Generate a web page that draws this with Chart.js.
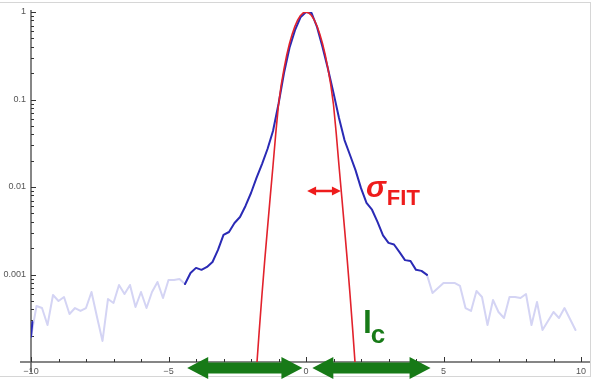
<!DOCTYPE html>
<html lang="en">
<head>
  <meta charset="UTF-8" />
  <title>Intensity profile</title>
  <script src="https://cdn.jsdelivr.net/npm/chart.js"></script>
  <style>
    body {
      margin: 0;
      background: white;
    }
    .frame {
      position: absolute;
      left: -2px;
      top: 2px;
      width: 591px;
      height: 373px;
      border: 1px solid #d6d6d6;
    }
    .wrap {
      position: absolute;
      left: 0;
      top: 0;
    }
  </style>
</head>
<body>
  <div class="frame"></div>
  <div class="wrap"><canvas id="profile" width="597" height="379"></canvas></div>

  <script>
    // measured profile, step 0.2
    const blueX = [
      -10, -9.8, -9.6, -9.4, -9.2, -9, -8.8, -8.6, -8.4, -8.2,
      -8, -7.8, -7.6, -7.4, -7.2, -7, -6.8, -6.6, -6.4, -6.2,
      -6, -5.8, -5.6, -5.4, -5.2, -5, -4.8, -4.6, -4.4, -4.2,
      -4, -3.8, -3.6, -3.4, -3.2, -3, -2.8, -2.6, -2.4, -2.2,
      -2, -1.8, -1.6, -1.4, -1.2, -1, -0.8, -0.6, -0.4, -0.2,
      0, 0.2, 0.4, 0.6, 0.8, 1, 1.2, 1.4, 1.6, 1.8,
      2, 2.2, 2.4, 2.6, 2.8, 3, 3.2, 3.4, 3.6, 3.8,
      4, 4.2, 4.4, 4.6, 4.8, 5, 5.2, 5.4, 5.6, 5.8,
      6, 6.2, 6.4, 6.6, 6.8, 7, 7.2, 7.4, 7.6, 7.8,
      8, 8.2, 8.4, 8.6, 8.8, 9, 9.2, 9.4, 9.6, 9.8
    ];
    const blueY = [
      0.000193, 0.000437, 0.000414, 0.000265, 0.000583, 0.000498, 0.000553, 0.000354, 0.000414, 0.000383,
      0.000414, 0.000631, 0.000327, 0.000174, 0.000525, 0.000472, 0.000759, 0.000598, 0.000759, 0.000425,
      0.000631, 0.000414, 0.000631, 0.000821, 0.000539, 0.000865, 0.000865, 0.000888, 0.000779, 0.00104,
      0.00119, 0.00113, 0.00122, 0.00139, 0.00191, 0.00283, 0.00306, 0.00388, 0.00454, 0.00607,
      0.00854, 0.0127, 0.0183, 0.0272, 0.0437, 0.0888, 0.2, 0.39, 0.62, 0.87,
      1, 0.975, 0.674, 0.398, 0.223, 0.119, 0.0615, 0.0344, 0.0232, 0.0156,
      0.0097, 0.0066, 0.0055, 0.0040, 0.0028, 0.0023, 0.0022, 0.0018, 0.00146, 0.00143,
      0.00113, 0.00110, 0.00099, 0.000615, 0.000701, 0.000800, 0.000800, 0.000800, 0.000739, 0.000414,
      0.000383, 0.000648, 0.000553, 0.000265, 0.000511, 0.000373, 0.000318, 0.000553, 0.000553, 0.000539,
      0.000598, 0.000265, 0.000485, 0.000232, 0.000294, 0.000373, 0.000318, 0.000414, 0.000310, 0.000232
    ];
    // part of the profile shown at full strength
    const coreFrom = -4.4;
    const coreTo = 4.4;
    // short full-strength piece at the left edge
    const edgeX = [-10, -9.95];
    const edgeY = [0.000193, 0.000286];

    // fitted curve
    const fitX = [
      -1.85, -1.8, -1.7, -1.6, -1.5, -1.4, -1.3, -1.2, -1.1, -1, -0.9, -0.8, -0.7, -0.6, -0.5, -0.4, -0.3, -0.2, -0.1,
      0,
      0.1, 0.2, 0.3, 0.4, 0.5, 0.6, 0.7, 0.8, 0.9, 1, 1.1, 1.2, 1.3, 1.4, 1.5, 1.6, 1.7, 1.8, 1.85
    ];
    const fitY = [
      0.000049, 0.000083, 0.000228, 0.000594, 0.00146, 0.00339, 0.00776, 0.0175, 0.0407, 0.0871,
      0.148, 0.224, 0.324, 0.437, 0.562, 0.692, 0.813, 0.912, 0.977,
      1,
      0.977, 0.912, 0.813, 0.692, 0.562, 0.437, 0.324, 0.224, 0.148,
      0.0871, 0.0407, 0.0175, 0.00776, 0.00339, 0.00146, 0.000594, 0.000228, 0.000083, 0.000049
    ];

    // axis ticks
    const yTickValues = [1, 0.1, 0.01, 0.001];
    const yTickLabels = ["1", "0.1", "0.01", "0.001"];
    const xTickValues = [-10, -5, 0, 5, 10];
    const xTickLabels = ["\u221210", "\u22125", "0", "5", "10"];

    // annotations (x in axis units)
    const sigmaArrow = { from: 0.04, to: 1.27, at: 0.009 };
    const sigmaLabel = { x: 2.18, y: 0.0077 };
    const icArrows = [[-4.32, -0.13], [0.23, 4.53]];
    const icLabel = { x: 2.07, y: 0.000214 };

    const pts = blueX.map((x, i) => ({ x: x, y: blueY[i] }));
    const core = pts.filter(p => p.x >= coreFrom && p.x <= coreTo);
    const tails = pts.map(p => (p.x > coreFrom && p.x < coreTo) ? { x: p.x, y: null } : p);
    const edge = edgeX.map((x, i) => ({ x: x, y: edgeY[i] }));
    const fit = fitX.map((x, i) => ({ x: x, y: fitY[i] }));

    function line(ctx, x1, y1, x2, y2) {
      ctx.beginPath();
      ctx.moveTo(x1, y1);
      ctx.lineTo(x2, y2);
      ctx.stroke();
    }

    function doubleArrow(ctx, x1, x2, yc, shaft, head, headLen) {
      ctx.beginPath();
      ctx.moveTo(x1, yc);
      ctx.lineTo(x1 + headLen, yc - head);
      ctx.lineTo(x1 + headLen, yc - shaft);
      ctx.lineTo(x2 - headLen, yc - shaft);
      ctx.lineTo(x2 - headLen, yc - head);
      ctx.lineTo(x2, yc);
      ctx.lineTo(x2 - headLen, yc + head);
      ctx.lineTo(x2 - headLen, yc + shaft);
      ctx.lineTo(x1 + headLen, yc + shaft);
      ctx.lineTo(x1 + headLen, yc + head);
      ctx.closePath();
      ctx.fill();
    }

    const decorations = {
      id: "decorations",
      beforeDatasetsDraw(chart) {
        const { ctx, chartArea: a, scales: { x, y } } = chart;
        ctx.save();
        ctx.strokeStyle = "#5e5e5e";
        ctx.lineWidth = 1.5;
        line(ctx, a.left, a.top - 2, a.left, a.bottom + 10);
        line(ctx, a.left - 11, a.bottom, a.right + 9, a.bottom);

        // log ticks on the y axis
        ctx.lineWidth = 1;
        ctx.strokeStyle = "#333";
        for (let d = -4; d <= 0; d++) {
          for (let m = 1; m <= 9; m++) {
            const v = m * Math.pow(10, d);
            if (v > 1 || (d === -4 && m === 1)) continue;
            const py = Math.round(y.getPixelForValue(v)) + 0.5;
            line(ctx, a.left, py, a.left + (m === 1 ? 5 : 3), py);
          }
        }
        // x ticks every unit
        for (let k = -10; k <= 10; k++) {
          const px = Math.round(x.getPixelForValue(k)) + 0.5;
          line(ctx, px, a.bottom, px, a.bottom - (k % 5 === 0 ? 5 : 3));
        }

        ctx.fillStyle = "#555";
        ctx.font = '9px "Liberation Sans", Arial, sans-serif';
        ctx.textAlign = "right";
        ctx.textBaseline = "middle";
        yTickValues.forEach((v, i) => {
          ctx.fillText(yTickLabels[i], a.left - 5, y.getPixelForValue(v));
        });
        ctx.textAlign = "center";
        xTickValues.forEach((v, i) => {
          ctx.fillText(xTickLabels[i], x.getPixelForValue(v), a.bottom + 10);
        });
        ctx.restore();
      },
      afterDatasetsDraw(chart) {
        const { ctx, chartArea: a, scales: { x, y } } = chart;
        ctx.save();

        // sigma arrow and label
        ctx.fillStyle = "#ee1c1c";
        doubleArrow(ctx, x.getPixelForValue(sigmaArrow.from), x.getPixelForValue(sigmaArrow.to),
          y.getPixelForValue(sigmaArrow.at), 1.3, 4.5, 9);
        const sx = x.getPixelForValue(sigmaLabel.x);
        const sy = y.getPixelForValue(sigmaLabel.y);
        ctx.textAlign = "left";
        ctx.textBaseline = "alphabetic";
        ctx.font = 'italic bold 30px "Liberation Sans", Arial, sans-serif';
        ctx.fillText("\u03c3", sx, sy);
        const sw = ctx.measureText("\u03c3").width;
        ctx.font = 'bold 22px "Liberation Sans", Arial, sans-serif';
        ctx.fillText("FIT", sx + sw + 1, sy + 8);

        // coherence length arrows and label
        ctx.fillStyle = "#177a17";
        icArrows.forEach(([from, to]) => {
          doubleArrow(ctx, x.getPixelForValue(from), x.getPixelForValue(to), a.bottom + 6, 5.5, 11, 21);
        });
        const lx = x.getPixelForValue(icLabel.x);
        const ly = y.getPixelForValue(icLabel.y);
        ctx.font = 'bold 32px "Liberation Sans", Arial, sans-serif';
        ctx.fillText("l", lx, ly);
        const lw = ctx.measureText("l").width;
        ctx.font = 'bold 26px "Liberation Sans", Arial, sans-serif';
        ctx.fillText("c", lx + lw - 1, ly + 10);
        ctx.restore();
      }
    };

    new Chart(document.getElementById("profile"), {
      type: "line",
      data: {
        datasets: [
          { data: fit, borderColor: "#e2222c", borderWidth: 1.6, order: 0 },
          { data: core, borderColor: "#2a2ab5", borderWidth: 2, order: 1 },
          { data: edge, borderColor: "#2a2ab5", borderWidth: 2, order: 1 },
          { data: tails, borderColor: "#d4d4f4", borderWidth: 2, order: 2, spanGaps: false }
        ]
      },
      options: {
        responsive: false,
        animation: false,
        layout: { padding: { left: 31, right: 16, top: 12, bottom: 17 } },
        plugins: { legend: { display: false }, tooltip: { enabled: false } },
        elements: {
          point: { radius: 0 },
          line: { tension: 0, borderJoinStyle: "round", borderCapStyle: "round" }
        },
        scales: {
          x: { type: "linear", min: -10, max: 10, display: false },
          y: { type: "logarithmic", min: 0.0001, max: 1, display: false }
        }
      },
      plugins: [decorations]
    });
  </script>
</body>
</html>
